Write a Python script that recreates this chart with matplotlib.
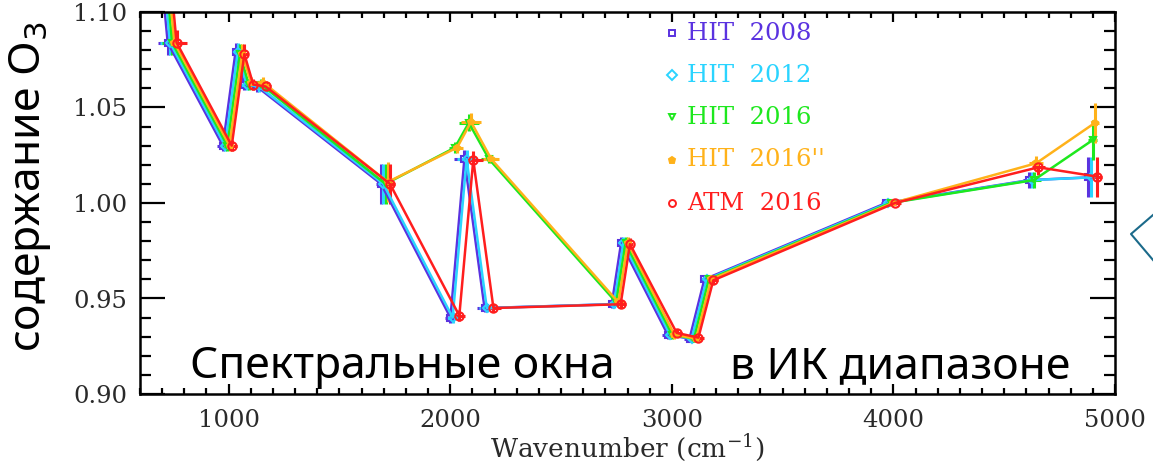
import numpy as np
import matplotlib
matplotlib.use('Agg')
import matplotlib.pyplot as plt
from matplotlib.lines import Line2D
from matplotlib.ticker import MultipleLocator

# wavenumbers of the spectral windows (cm-1), first one lies above the frame
wn = [700, 745, 994, 1051, 1091, 1147, 1708, 2021, 2084, 2175,
      2749, 2791, 3002, 3100, 3167, 3987, 4634, 4900]

hit2008 = [1.14, 1.084, 1.030, 1.079, 1.062, 1.061, 1.010, 0.940, 1.023, 0.945,
           0.947, 0.979, 0.931, 0.929, 0.960, 1.000, 1.012, 1.0134]
hit2012 = [1.14, 1.084, 1.030, 1.079, 1.062, 1.061, 1.010, 0.940, 1.023, 0.945,
           0.947, 0.979, 0.931, 0.929, 0.960, 1.000, 1.012, 1.0134]
hit2016 = [1.14, 1.084, 1.030, 1.078, 1.062, 1.062, 1.010, 1.029, 1.042, 1.023,
           0.948, 0.979, 0.931, 0.929, 0.960, 1.000, 1.012, 1.033]
hit2016b = [1.14, 1.084, 1.030, 1.078, 1.063, 1.063, 1.011, 1.029, 1.0425, 1.023,
            0.948, 0.979, 0.931, 0.929, 0.960, 1.000, 1.0208, 1.042]
atm2016 = [1.14, 1.084, 1.030, 1.078, 1.062, 1.061, 1.010, 0.941, 1.0225, 0.945,
           0.947, 0.9785, 0.932, 0.9295, 0.9595, 1.000, 1.0187, 1.0138]

yerr = [0.01, 0.0065, 0.003, 0.005, 0.003, 0.003, 0.0105, 0.003, 0.0045, 0.002,
        0.002, 0.003, 0.002, 0.002, 0.002, 0.001, 0.004, 0.0105]
xerr = [0, 45, 25, 15, 25, 25, 25, 25, 45, 35, 25, 15, 25, 25, 20, 25, 30, 20]

labels = ['HIT  2008', 'HIT  2012', 'HIT  2016', "HIT  2016''", 'ATM  2016']
series = [hit2008, hit2012, hit2016, hit2016b, atm2016]
colors = ['#5a32e0', '#2ad4ff', '#1ee81e', '#ffb21a', '#ff1e1e']
markers = ['s', 'D', 'v', 'p', 'o']
filled = [False, False, False, True, False]
dodge = [-20, -10, 0, 10, 20]

plt.rcParams['font.family'] = ['DejaVu Serif']
plt.rcParams['mathtext.fontset'] = 'dejavuserif'

W, H = 1153, 462
fig = plt.figure(figsize=(W / 100, H / 100), dpi=100)
ax = fig.add_axes([140 / W, 1 - 394 / H, 975 / W, 382 / H])

for ys, c, m, f, d in zip(series, colors, markers, filled, dodge):
    x = np.array(wn) + d
    big = (m == 'o')
    ax.errorbar(x, ys, yerr=yerr, xerr=xerr, color=c, lw=1.8, elinewidth=2.2,
                capsize=0, marker=m, ms=6 if big else 4, mew=1.5,
                mfc=c if f else 'none', mec=c)

ax.set_xlim(600, 5000)
ax.set_ylim(0.90, 1.10)
ax.xaxis.set_major_locator(MultipleLocator(1000))
ax.xaxis.set_minor_locator(MultipleLocator(100))
ax.yaxis.set_major_locator(MultipleLocator(0.05))
ax.yaxis.set_minor_locator(MultipleLocator(0.01))
ax.yaxis.set_major_formatter(matplotlib.ticker.FormatStrFormatter('%.2f'))
ax.tick_params(which='both', direction='in', top=True, right=True, width=1.6,
               labelsize=17.5, labelcolor='#2a2a2a')
ax.tick_params(axis='x', which='major', length=7, pad=11)
ax.tick_params(axis='x', which='minor', length=4)
ax.tick_params(axis='y', which='major', length=18, pad=9)
ax.tick_params(axis='y', which='minor', length=8)
for s in ax.spines.values():
    s.set_linewidth(1.8)

# legend drawn as coloured text, IDL style
rows = [0.945, 0.835, 0.725, 0.613, 0.500]
for lab, c, m, f, ry in zip(labels, colors, markers, filled, rows):
    ax.plot([0.5456], [ry], marker=m, ms=5, mew=1.4, color=c,
            mfc=c if f else 'none', transform=ax.transAxes, clip_on=False)
    ax.text(0.561, ry, lab, color=c, fontsize=17.5, va='center', ha='left',
            transform=ax.transAxes)

fig.text(627 / W, 1 - 448 / H, 'Wavenumber (cm$^{-1}$)', ha='center', va='center',
         fontsize=19, color='#2a2a2a')

sans = ['Noto Sans', 'DejaVu Sans']
fig.text(30 / W, 1 - 187 / H, 'содержание O$_3$', rotation=90, ha='center',
         va='center', fontsize=32, family=sans, math_fontfamily='dejavusans')
fig.text(190 / W, 1 - 378 / H, 'Спектральные окна', fontsize=32, family=sans,
         ha='left', va='baseline')
fig.text(730 / W, 1 - 378 / H, 'в ИК диапазоне', fontsize=32, family=sans,
         ha='left', va='baseline')

fig.add_artist(Line2D([1.0, 1131 / W, 1.0], [1 - 215 / H, 1 - 234 / H, 1 - 260 / H],
                      transform=fig.transFigure, color='#1b6a8a', lw=1.5))

fig.savefig('out.png', dpi=100)
